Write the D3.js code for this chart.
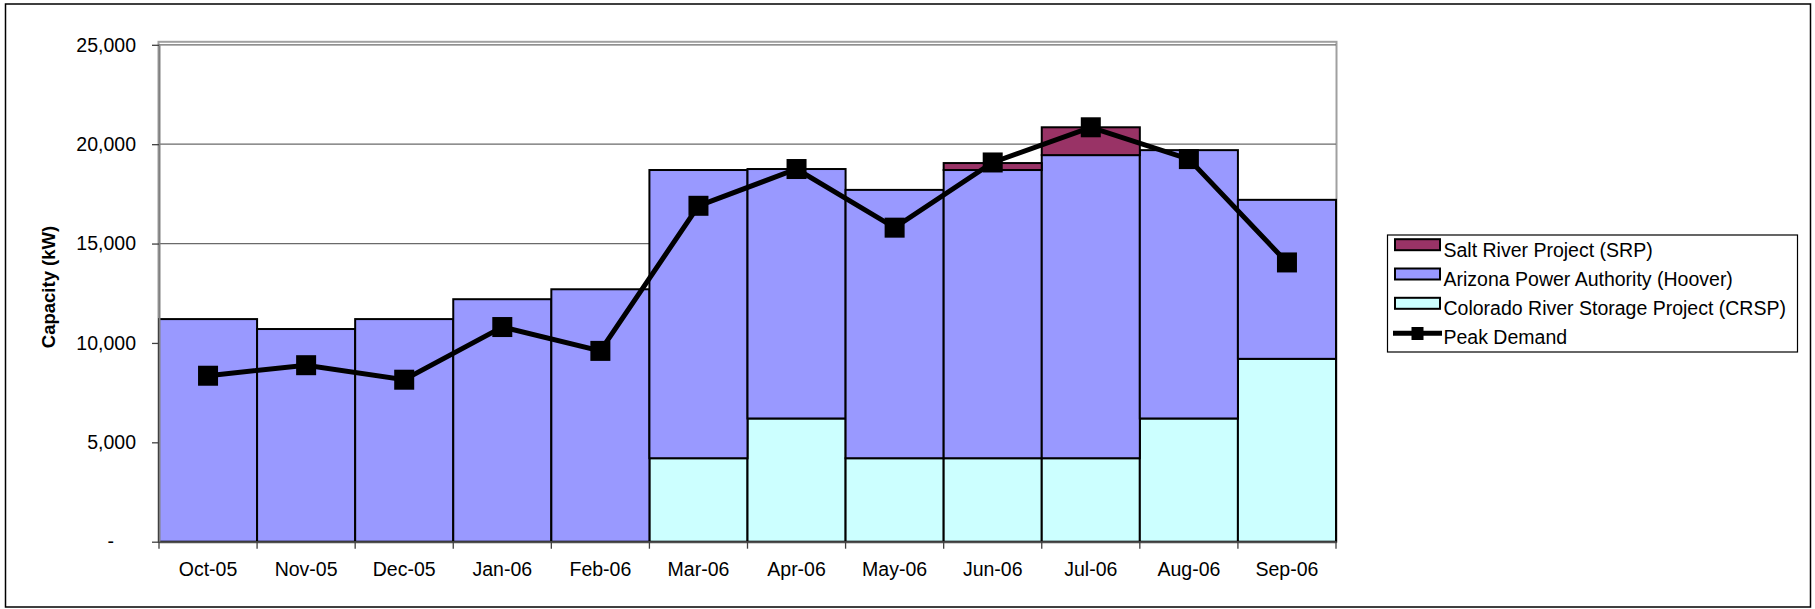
<!DOCTYPE html>
<html>
<head>
<meta charset="utf-8">
<script src="https://cdn.jsdelivr.net/npm/d3@7"></script>
<style>
  html, body { margin: 0; padding: 0; background: #fff; }
  svg { display: block; font-family: "Liberation Sans", Arial, sans-serif; }
</style>
</head>
<body>
<svg id="chart" width="1815" height="609"></svg>
<script>
// ---- data ----
const categories = ["Oct-05","Nov-05","Dec-05","Jan-06","Feb-06","Mar-06","Apr-06","May-06","Jun-06","Jul-06","Aug-06","Sep-06"];
const crsp   = [0, 0, 0, 0, 0, 4200, 6200, 4200, 4200, 4200, 6200, 9200];
const hoover = [11200, 10700, 11200, 12200, 12700, 14500, 12550, 13500, 14500, 15250, 13500, 8000];
const srp    = [0, 0, 0, 0, 0, 0, 0, 0, 350, 1400, 0, 0];
const peakDemand = [8350, 8880, 8150, 10800, 9600, 16900, 18750, 15800, 19080, 20850, 19250, 14050];
const yTicks = [0, 5000, 10000, 15000, 20000, 25000];
const seriesNames = ["Salt River Project (SRP)", "Arizona Power Authority (Hoover)", "Colorado River Storage Project (CRSP)", "Peak Demand"];

// ---- layout ----
const svg = d3.select("#chart");
const pLeft = 159, pRight = 1336, pTop = 44.8, pBottom = 541.7;
const x = d3.scaleBand().domain(categories).range([pLeft, pRight]).padding(0);
const y = d3.scaleLinear().domain([0, 25000]).range([pBottom, pTop]);
const colors = { srp: "#993366", hoover: "#9999FF", crsp: "#CCFFFF" };

// outer border
svg.append("rect").attr("x", 5.5).attr("y", 4).attr("width", 1805).attr("height", 603)
  .attr("fill", "#fff").attr("stroke", "#000").attr("stroke-width", 1.5);

// plot border
svg.append("rect").attr("x", pLeft - 0.5).attr("y", pTop - 3).attr("width", pRight - pLeft + 1).attr("height", pBottom - pTop + 3)
  .attr("fill", "none").attr("stroke", "#a0a0a0").attr("stroke-width", 2);

// gridlines
svg.append("g").selectAll("line").data(yTicks.filter(d => d > 0)).join("line")
  .attr("x1", pLeft).attr("x2", pRight).attr("y1", d => y(d)).attr("y2", d => y(d))
  .attr("stroke", "#6a6a6a").attr("stroke-width", 1.2);

// stacked bars
const table = categories.map((c, i) => ({ cat: c, crsp: crsp[i], hoover: hoover[i], srp: srp[i] }));
const stack = d3.stack().keys(["crsp", "hoover", "srp"])(table);
svg.append("g").selectAll("g").data(stack).join("g")
  .attr("fill", d => colors[d.key])
  .selectAll("rect").data(d => d.filter(v => v[1] - v[0] > 0)).join("rect")
  .attr("x", d => x(d.data.cat)).attr("width", x.bandwidth())
  .attr("y", d => y(d[1])).attr("height", d => y(d[0]) - y(d[1]))
  .attr("stroke", "#000").attr("stroke-width", 2);

// y axis
const yAxis = d3.axisLeft(y).tickValues(yTicks).tickSize(7).tickSizeOuter(0).tickPadding(16)
  .tickFormat(d => d === 0 ? "-" : d3.format(",")(d));
const gy = svg.append("g").attr("transform", `translate(${pLeft},0)`).call(yAxis);
gy.select(".domain").attr("stroke", "#808080").attr("stroke-width", 2);
gy.selectAll(".tick line").attr("stroke", "#404040").attr("stroke-width", 1.3);
gy.selectAll(".tick text").attr("font-size", "19.5px").attr("fill", "#000")
  .attr("font-family", "Liberation Sans, Arial, sans-serif")
  .attr("dx", d => d === 0 ? -22 : 0);

// x axis
const xAxis = d3.axisBottom(x).tickSize(0).tickPadding(20);
const gx = svg.append("g").attr("transform", `translate(0,${pBottom})`).call(xAxis);
gx.select(".domain").attr("stroke", "#505050").attr("stroke-width", 2);
gx.selectAll(".tick text").attr("font-size", "19.5px").attr("fill", "#000")
  .attr("font-family", "Liberation Sans, Arial, sans-serif");
// tick marks at category boundaries
const bounds = categories.map(c => x(c)).concat([x(categories[categories.length - 1]) + x.bandwidth()]);
svg.append("g").selectAll("line").data(bounds).join("line")
  .attr("x1", d => d).attr("x2", d => d).attr("y1", pBottom).attr("y2", pBottom + 7)
  .attr("stroke", "#404040").attr("stroke-width", 1.3);

// y label
svg.append("text").attr("transform", "translate(49,287) rotate(-90)")
  .attr("text-anchor", "middle").attr("dy", "0.35em")
  .attr("font-size", "18.5px").attr("font-weight", "bold").text("Capacity (kW)");

// peak demand line
const line = d3.line().x((d, i) => x(categories[i]) + x.bandwidth() / 2).y(d => y(d));
svg.append("path").datum(peakDemand).attr("d", line)
  .attr("fill", "none").attr("stroke", "#000").attr("stroke-width", 5).attr("stroke-linejoin", "miter");
svg.append("g").selectAll("rect").data(peakDemand).join("rect")
  .attr("x", (d, i) => x(categories[i]) + x.bandwidth() / 2 - 10)
  .attr("y", d => y(d) - 10).attr("width", 20).attr("height", 20).attr("fill", "#000");

// legend
const lg = svg.append("g");
lg.append("rect").attr("x", 1387.5).attr("y", 235).attr("width", 410).attr("height", 117)
  .attr("fill", "#fff").attr("stroke", "#000").attr("stroke-width", 1.2);
const legendFills = [colors.srp, colors.hoover, colors.crsp, null];
const rowBase = [256.7, 286, 315.3, 344];
seriesNames.forEach((name, i) => {
  const b = rowBase[i];
  if (legendFills[i]) {
    lg.append("rect").attr("x", 1395).attr("y", b - 17.5).attr("width", 45).attr("height", 11)
      .attr("fill", legendFills[i]).attr("stroke", "#000").attr("stroke-width", 2);
  } else {
    lg.append("line").attr("x1", 1393).attr("x2", 1442).attr("y1", b - 10.7).attr("y2", b - 10.7)
      .attr("stroke", "#000").attr("stroke-width", 5);
    lg.append("rect").attr("x", 1411.5).attr("y", b - 17).attr("width", 12).attr("height", 13).attr("fill", "#000");
  }
  lg.append("text").attr("x", 1443.5).attr("y", b).attr("font-size", "19.5px").attr("fill", "#000").text(name);
});
</script>
</body>
</html>
